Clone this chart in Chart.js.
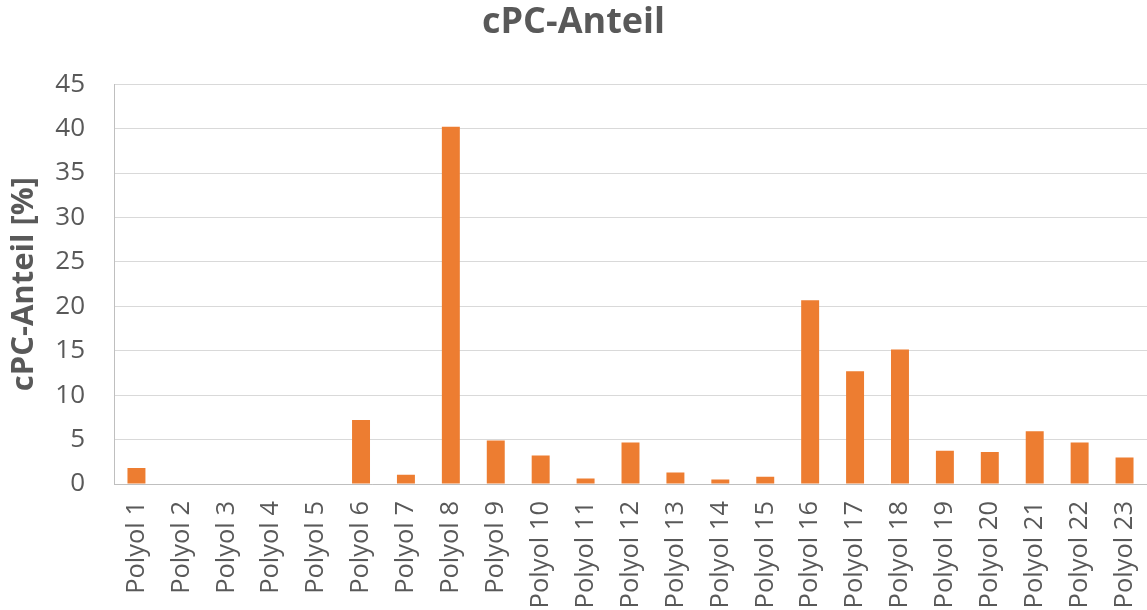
<!DOCTYPE html>
<html>
<head>
<meta charset="utf-8">
<script src="https://cdn.jsdelivr.net/npm/chart.js@4"></script>
<style>
  html, body { margin: 0; padding: 0; background: #ffffff; }
  #wrap { width: 1147px; height: 610px; }
</style>
</head>
<body>
<div id="wrap"><canvas id="c" width="1147" height="610"></canvas></div>
<script>
const categories = [
  'Polyol 1', 'Polyol 2', 'Polyol 3', 'Polyol 4', 'Polyol 5', 'Polyol 6',
  'Polyol 7', 'Polyol 8', 'Polyol 9', 'Polyol 10', 'Polyol 11', 'Polyol 12',
  'Polyol 13', 'Polyol 14', 'Polyol 15', 'Polyol 16', 'Polyol 17', 'Polyol 18',
  'Polyol 19', 'Polyol 20', 'Polyol 21', 'Polyol 22', 'Polyol 23'
];
const cpcShare = [
  1.8, 0, 0, 0, 0, 7.2,
  1.05, 40.2, 4.9, 3.2, 0.63, 4.66,
  1.3, 0.52, 0.82, 20.68, 12.7, 15.15,
  3.75, 3.6, 5.93, 4.66, 2.97
];
const yTicks = [0, 5, 10, 15, 20, 25, 30, 35, 40, 45];

const FONT = "'Open Sans', sans-serif";
const GREY = '#595959';

new Chart(document.getElementById('c'), {
  type: 'bar',
  data: {
    labels: categories,
    datasets: [{
      label: 'cPC-Anteil',
      data: cpcShare,
      backgroundColor: '#ED7D31',
      borderWidth: 0,
      barPercentage: 0.4,
      categoryPercentage: 1.0
    }]
  },
  options: {
    responsive: false,
    animation: false,
    layout: { padding: { left: 0, right: 0, top: 0, bottom: 0 } },
    plugins: {
      legend: { display: false },
      tooltip: { enabled: false },
      title: {
        display: true,
        text: 'cPC-Anteil',
        color: GREY,
        font: { family: FONT, size: 36, weight: 'bold' },
        padding: { top: 1, bottom: 40 }
      }
    },
    scales: {
      x: {
        grid: { display: false, drawTicks: false },
        border: { display: true, color: '#bfbfbf', width: 1 },
        ticks: {
          color: GREY,
          font: { family: FONT, size: 25.5 },
          minRotation: 90,
          maxRotation: 90,
          autoSkip: false,
          padding: 17
        },
        afterFit(scale) {
          scale.height = 126;
          scale.paddingLeft = 0;
          scale.paddingRight = 0;
        }
      },
      y: {
        min: 0,
        max: 45,
        afterBuildTicks(scale) { scale.ticks = yTicks.map(v => ({ value: v })); },
        grid: { color: '#d9d9d9', lineWidth: 1, drawTicks: false },
        border: { display: true, color: '#bfbfbf', width: 1 },
        ticks: {
          color: GREY,
          font: { family: FONT, size: 26 },
          padding: 29
        },
        title: {
          display: true,
          text: 'cPC-Anteil [%]',
          color: GREY,
          font: { family: FONT, size: 31, weight: 'bold' },
          padding: { top: 6, bottom: 0 }
        },
        afterFit(scale) { scale.width = 114; }
      }
    }
  }
});
</script>
</body>
</html>
